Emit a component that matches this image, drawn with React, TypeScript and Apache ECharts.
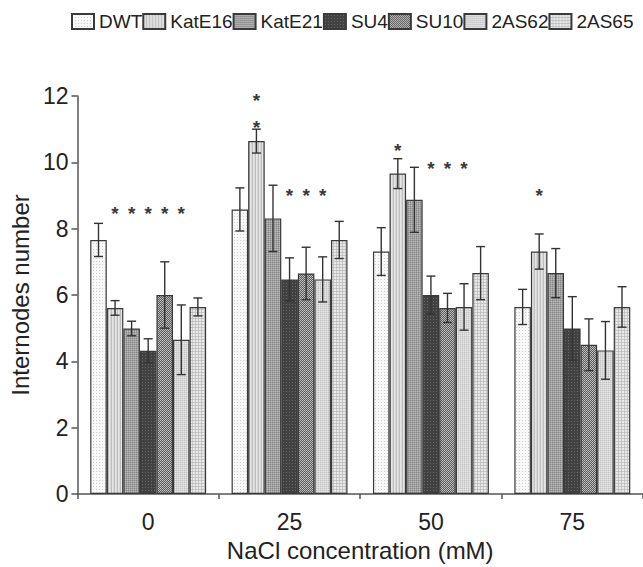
import React, { useEffect, useRef } from "react";
import * as echarts from "echarts";

const categories = ["0", "25", "50", "75"];
const seriesNames = ["DWT", "KatE16", "KatE21", "SU4", "SU10", "2AS62", "2AS65"];

const dwt = [7.66, 8.58, 7.31, 5.64];
const katE16 = [5.61, 10.64, 9.66, 7.31];
const katE21 = [4.99, 8.31, 8.87, 6.66];
const su4 = [4.32, 6.47, 6.0, 4.99];
const su10 = [6.0, 6.65, 5.61, 4.5];
const as62 = [4.65, 6.47, 5.64, 4.33];
const as65 = [5.64, 7.66, 6.66, 5.64];

const dwtErr = [0.5, 0.65, 0.72, 0.53];
const katE16Err = [0.22, 0.36, 0.45, 0.53];
const katE21Err = [0.22, 1.0, 0.98, 0.74];
const su4Err = [0.36, 0.65, 0.57, 0.96];
const su10Err = [1.0, 0.79, 0.44, 0.78];
const as62Err = [1.05, 0.68, 0.7, 0.87];
const as65Err = [0.27, 0.56, 0.8, 0.61];

// significance marks: [category index, bar index, value position]
const asterisks = [
  [0, 1, 8.58], [0, 2, 8.58], [0, 3, 8.58], [0, 4, 8.58], [0, 5, 8.58],
  [1, 1, 11.98], [1, 1, 11.18], [1, 3, 9.13], [1, 4, 9.13], [1, 5, 9.13],
  [2, 1, 10.49], [2, 3, 9.92], [2, 4, 9.92], [2, 5, 9.92],
  [3, 1, 9.13],
];

const yTicks = { min: 0, max: 12, interval: 2 };

const values = [dwt, katE16, katE21, su4, su10, as62, as65];
const errors = [dwtErr, katE16Err, katE21Err, su4Err, su10Err, as62Err, as65Err];

const FONT = "'Liberation Sans', Arial, Helvetica, sans-serif";
const BAR_FRACTION = 0.82;

function makePattern(w: number, h: number, base: string, pixels: [number, number, string][]) {
  const c = document.createElement("canvas");
  c.width = w;
  c.height = h;
  const ctx = c.getContext("2d")!;
  ctx.fillStyle = base;
  ctx.fillRect(0, 0, w, h);
  pixels.forEach(([x, y, col]) => {
    ctx.fillStyle = col;
    ctx.fillRect(x, y, 1, 1);
  });
  return { image: c, repeat: "repeat" } as any;
}

function buildPatterns() {
  return [
    makePattern(3, 3, "#f8f8f8", [[0, 0, "#cdcdcd"]]),
    makePattern(3, 1, "#d8d8d8", [[0, 0, "#bdbdbd"], [1, 0, "#e6e6e6"]]),
    makePattern(2, 2, "#a2a2a2", [[0, 0, "#858585"], [1, 1, "#b8b8b8"]]),
    makePattern(3, 3, "#414141", [[1, 1, "#6a6a6a"]]),
    makePattern(2, 2, "#5a5a5a", [[0, 0, "#c4c4c4"], [1, 1, "#b8b8b8"]]),
    makePattern(2, 2, "#d6d6d6", [[0, 0, "#c4c4c4"], [1, 1, "#e8e8e8"]]),
    makePattern(3, 3, "#e9e9e9", [[0, 0, "#bcbcbc"], [1, 0, "#c6c6c6"], [2, 0, "#c6c6c6"], [0, 1, "#c6c6c6"], [0, 2, "#c6c6c6"]]),
  ];
}

export default function App() {
  const ref = useRef<HTMLDivElement>(null);

  useEffect(() => {
    if (!ref.current) return;
    const chart = echarts.init(ref.current, null, { renderer: "svg" });
    const patterns = buildPatterns();

    const errData: number[][] = [];
    values.forEach((vals, si) => {
      vals.forEach((v, ci) => {
        errData.push([ci, v - errors[si][ci], v + errors[si][ci], si]);
      });
    });

    const barX = (api: any, cat: number, bi: number) => {
      const band = api.size([1, 0])[0];
      const bw = (band * BAR_FRACTION) / seriesNames.length;
      return api.coord([cat, 0])[0] - (band * BAR_FRACTION) / 2 + bw * (bi + 0.5);
    };

    const lineStyle = { stroke: "#333333", lineWidth: 1.4 };

    const option: any = {
      animation: false,
      textStyle: { fontFamily: FONT },
      legend: {
        data: seriesNames,
        left: 71,
        top: 12,
        padding: 0,
        itemWidth: 22,
        itemHeight: 15,
        itemGap: 0,
        icon: "rect",
        textStyle: { fontSize: 19, color: "#222", fontFamily: FONT },
      },
      grid: { left: 72, right: -4, top: 96, bottom: 70, containLabel: false },
      xAxis: {
        type: "category",
        data: categories,
        boundaryGap: true,
        name: "NaCl concentration (mM)",
        nameLocation: "middle",
        nameGap: 44,
        nameTextStyle: { fontSize: 24, color: "#222", fontFamily: FONT },
        axisLine: { show: true, lineStyle: { color: "#555", width: 1.5 } },
        axisTick: { show: true, length: 5, lineStyle: { color: "#555", width: 1.5 } },
        axisLabel: { fontSize: 23, color: "#222", margin: 16, fontFamily: FONT },
        splitLine: { show: false },
      },
      yAxis: {
        type: "value",
        min: yTicks.min,
        max: yTicks.max,
        interval: yTicks.interval,
        name: "Internodes number",
        nameLocation: "middle",
        nameGap: 37,
        nameTextStyle: { fontSize: 24, color: "#222", fontFamily: FONT },
        axisLine: { show: true, lineStyle: { color: "#555", width: 1.5 } },
        axisTick: { show: true, length: 6, lineStyle: { color: "#555", width: 1.5 } },
        axisLabel: { fontSize: 23, color: "#222", margin: 9, fontFamily: FONT },
        splitLine: { show: false },
      },
      series: [
        ...seriesNames.map((n, i) => ({
          type: "bar",
          name: n,
          data: values[i],
          barGap: "0%",
          barCategoryGap: `${Math.round((1 - BAR_FRACTION) * 100)}%`,
          itemStyle: { color: patterns[i], borderColor: "#3a3a3a", borderWidth: 1.2 },
          emphasis: { disabled: true },
        })),
        {
          type: "custom",
          name: "errors",
          silent: true,
          z: 10,
          encode: { x: 0, y: [1, 2] },
          data: errData,
          renderItem: (params: any, api: any) => {
            const cat = api.value(0);
            const lo = api.value(1);
            const hi = api.value(2);
            const bi = api.value(3);
            const x = barX(api, cat, bi);
            const yLo = api.coord([cat, lo])[1];
            const yHi = api.coord([cat, hi])[1];
            const cap = 4.5;
            return {
              type: "group",
              children: [
                { type: "line", shape: { x1: x, y1: yLo, x2: x, y2: yHi }, style: lineStyle },
                { type: "line", shape: { x1: x - cap, y1: yHi, x2: x + cap, y2: yHi }, style: lineStyle },
                { type: "line", shape: { x1: x - cap, y1: yLo, x2: x + cap, y2: yLo }, style: lineStyle },
              ],
            };
          },
        },
        {
          type: "custom",
          name: "marks",
          silent: true,
          z: 11,
          encode: { x: 0, y: 2 },
          data: asterisks,
          renderItem: (params: any, api: any) => {
            const cat = api.value(0);
            const bi = api.value(1);
            const v = api.value(2);
            const x = barX(api, cat, bi);
            const y = api.coord([cat, v])[1];
            return {
              type: "text",
              x,
              y: y + 4,
              style: {
                text: "*",
                fontSize: 19,
                fontWeight: "bold",
                fontFamily: FONT,
                fill: "#3a3a3a",
                align: "center",
                verticalAlign: "middle",
              },
            };
          },
        },
      ],
    };

    chart.setOption(option);
    return () => chart.dispose();
  }, []);

  return (
    <div
      ref={ref}
      style={{ position: "fixed", left: 0, top: 0, width: 643, height: 567, background: "#fff" }}
    />
  );
}
